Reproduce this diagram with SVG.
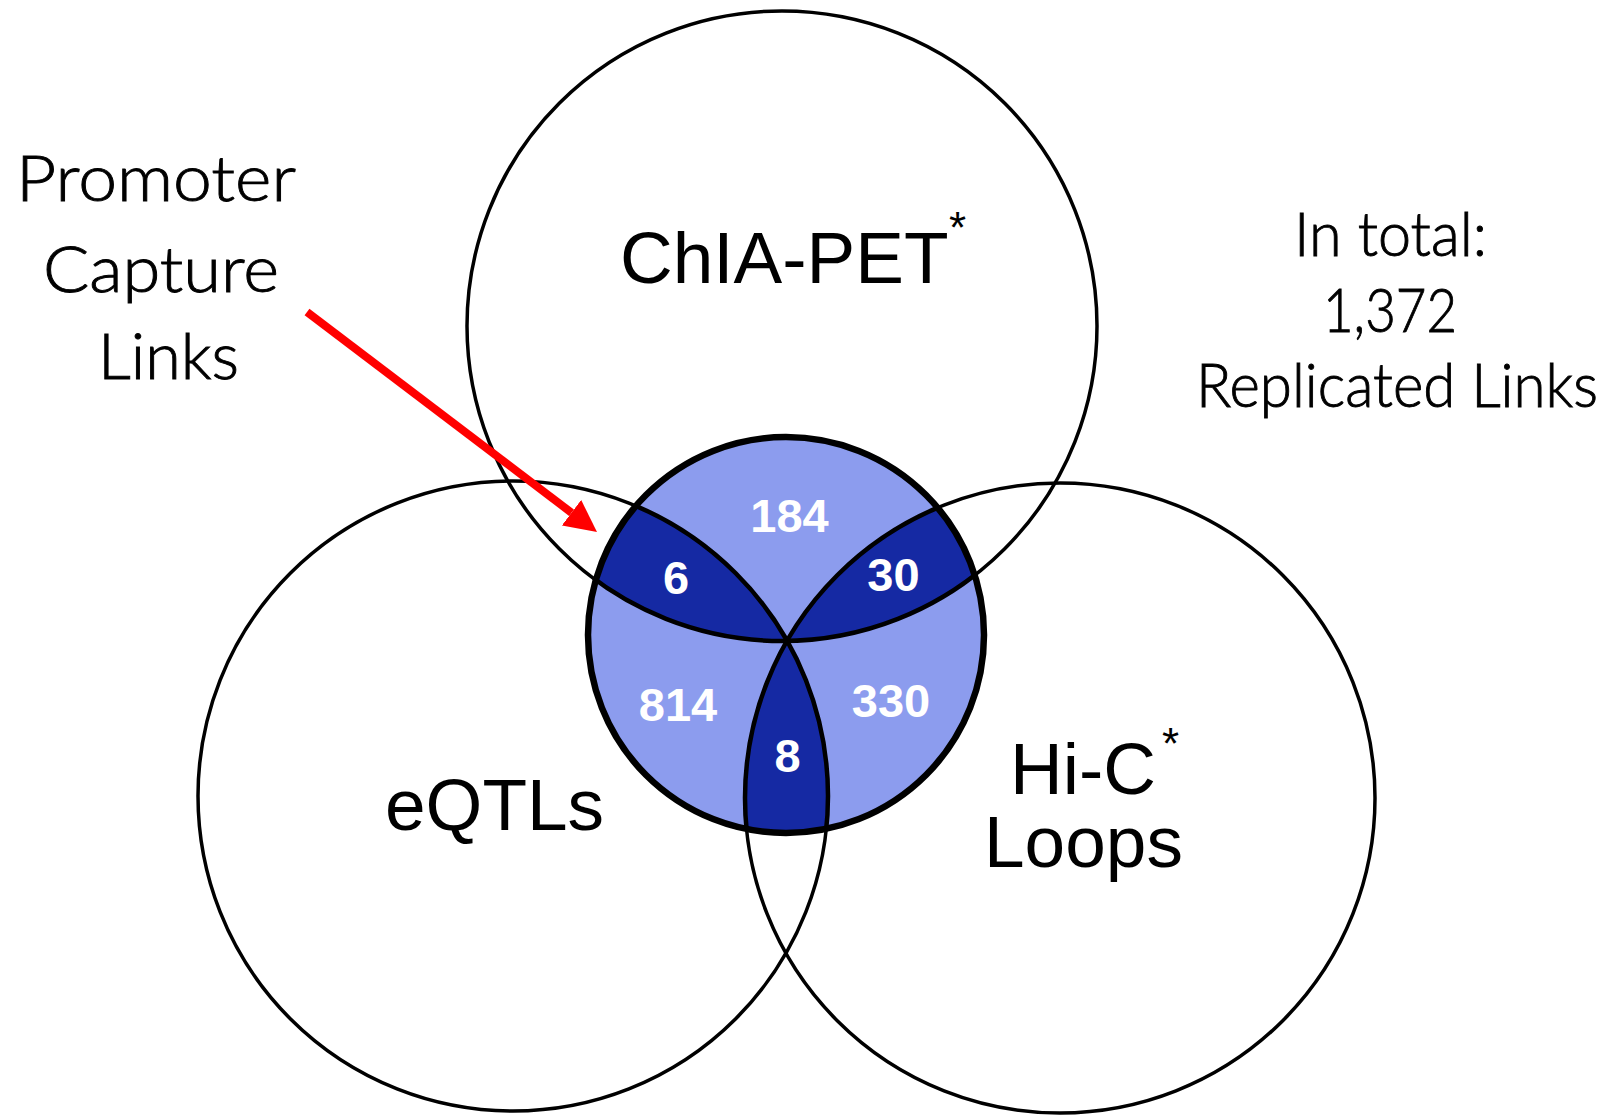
<svg xmlns="http://www.w3.org/2000/svg" width="1620" height="1115" viewBox="0 0 1620 1115">
  <style>
    .set { fill: none; stroke: #000; stroke-width: 3.5; }
    .inner { fill: none; stroke: #000; stroke-width: 4.5; }
    .label { font-family: "Liberation Sans", Arial, sans-serif; font-size: 73px; fill: #000; }
    .star { font-family: "Liberation Sans", Arial, sans-serif; font-size: 44px; fill: #000; }
    .count { font-family: "Liberation Sans", Arial, sans-serif; font-size: 47px; font-weight: bold; fill: #fff; text-anchor: middle; }
    .note { font-family: "Lato", "Open Sans", sans-serif; font-weight: 300; fill: #000; stroke: #000; stroke-width: 0.9; }
    .light { fill: #8c9cee; }
    .dark { fill: #1529a3; }
  </style>
  <defs>
    <clipPath id="clipCore"><circle cx="786" cy="635" r="198"/></clipPath>
    <clipPath id="clipChia"><circle cx="782" cy="326" r="315"/></clipPath>
    <clipPath id="clipEqtl"><circle cx="513" cy="796" r="315"/></clipPath>
    <clipPath id="clipHic"><circle cx="1060" cy="798" r="315"/></clipPath>
    <marker id="arrowHead" viewBox="0 0 4 4" refX="0" refY="2" markerWidth="4" markerHeight="4" orient="auto">
      <path d="M0,0 L4,2 L0,4 z" fill="#ff0000"/>
    </marker>
  </defs>

  <rect width="1620" height="1115" fill="#fff"/>

  <!-- three evidence sets -->
  <g id="chia-pet">
    <circle class="set" cx="782" cy="326" r="315"/>
    <text class="label" x="620" y="283">ChIA-PET</text>
    <text class="star" x="949" y="243">*</text>
  </g>
  <g id="eqtls">
    <circle class="set" cx="513" cy="796" r="315"/>
    <text class="label" x="385" y="830">eQTLs</text>
  </g>
  <g id="hic-loops">
    <circle class="set" cx="1060" cy="798" r="315"/>
    <text class="label" x="1010" y="794">Hi-C</text>
    <text class="star" x="1162" y="759">*</text>
    <text class="label" x="984" y="867">Loops</text>
  </g>

  <!-- promoter capture links: the shaded core -->
  <g id="promoter-capture">
    <circle class="light" cx="786" cy="635" r="198"/>
    <g clip-path="url(#clipCore)">
      <g clip-path="url(#clipChia)"><circle class="dark" cx="513" cy="796" r="315"/></g>
      <g clip-path="url(#clipChia)"><circle class="dark" cx="1060" cy="798" r="315"/></g>
      <g clip-path="url(#clipEqtl)"><circle class="dark" cx="1060" cy="798" r="315"/></g>
      <circle class="inner" cx="782" cy="326" r="315"/>
      <circle class="inner" cx="513" cy="796" r="315"/>
      <circle class="inner" cx="1060" cy="798" r="315"/>
    </g>
    <circle cx="786" cy="635" r="198" fill="none" stroke="#000" stroke-width="6.5"/>
    <text class="count" x="789.5" y="532">184</text>
    <text class="count" x="676" y="594">6</text>
    <text class="count" x="893.5" y="591">30</text>
    <text class="count" x="678" y="721">814</text>
    <text class="count" x="891" y="717">330</text>
    <text class="count" x="787.5" y="772">8</text>
  </g>

  <!-- side notes -->
  <g id="promoter-note">
    <text class="note" font-size="63" x="16" y="201" textLength="280" lengthAdjust="spacingAndGlyphs">Promoter</text>
    <text class="note" font-size="63" x="43" y="291.5" textLength="236" lengthAdjust="spacingAndGlyphs">Capture</text>
    <text class="note" font-size="63" x="98" y="379" textLength="141" lengthAdjust="spacingAndGlyphs">Links</text>
  </g>
  <g id="total-note">
    <text class="note" font-size="61" x="1294" y="256" textLength="193" lengthAdjust="spacingAndGlyphs">In total:</text>
    <text class="note" font-size="61" x="1323" y="331.7" textLength="134" lengthAdjust="spacingAndGlyphs">1,372</text>
    <text class="note" font-size="61" x="1196" y="406.7" textLength="402" lengthAdjust="spacingAndGlyphs">Replicated Links</text>
  </g>

  <!-- connector -->
  <g id="connectors">
    <line x1="307" y1="312" x2="571.5" y2="512.7" stroke="#ff0000" stroke-width="8" marker-end="url(#arrowHead)"/>
  </g>
</svg>
